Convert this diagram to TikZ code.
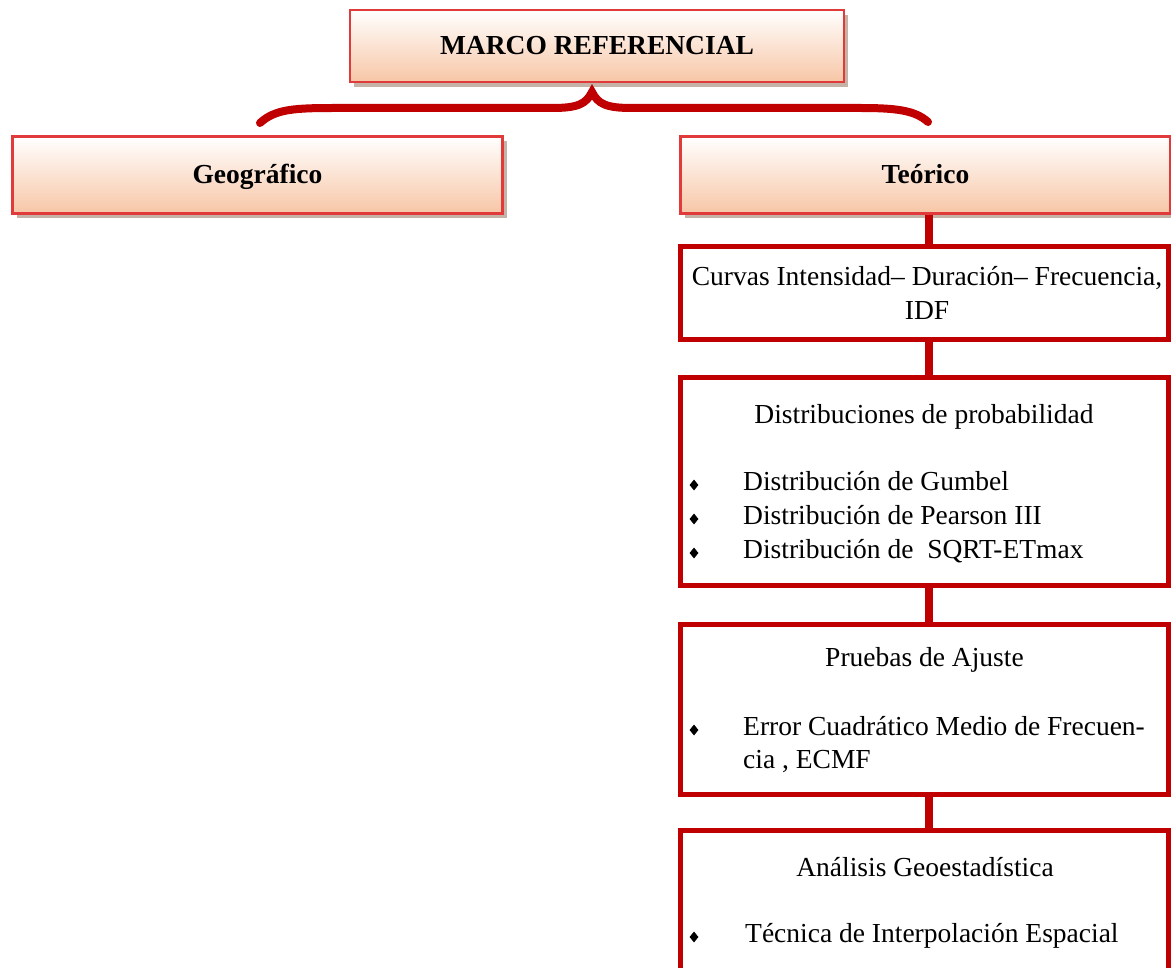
\documentclass[tikz,border=0pt]{standalone}
\usepackage{fontspec}
\setmainfont{Liberation Serif}
\usetikzlibrary{shadows,shapes.geometric}
\definecolor{dred}{HTML}{C00000}
\definecolor{lred}{HTML}{E03A3A}
\definecolor{peach}{HTML}{F7C6A6}
\definecolor{shad}{HTML}{B5A090}
\begin{document}
\begin{tikzpicture}[x=1pt,y=-1pt,
 topbox/.style={draw=lred, line width=2.5pt, top color=white, bottom color=peach,
   drop shadow={shadow xshift=4pt, shadow yshift=-5pt, fill=shad, opacity=0.8},
   minimum width=490pt, minimum height=77pt, text height=18pt, text depth=0pt, inner sep=0pt,
   font=\fontsize{27.5}{33}\selectfont\bfseries},
 lowbox/.style={draw=dred, line width=5pt, fill=white, minimum width=488pt, inner sep=0pt},
 conn/.style={draw=dred, line width=8pt},
 bracestyle/.style={draw=dred, line width=8pt, line cap=round},
 txt/.style={anchor=base, inner sep=0pt, font=\fontsize{27.5}{33}\selectfont},
 itemtxt/.style={anchor=base west, inner sep=0pt, font=\fontsize{27.5}{33}\selectfont},
 bulletmark/.style={diamond, fill=black, inner sep=0pt, minimum width=9pt, minimum height=11pt}
]
\useasboundingbox (0,0) rectangle (1171,968);
\clip (0,0) rectangle (1171,968);

% top level
\node[topbox, minimum width=494pt, minimum height=72pt] (marco) at (597,46) {MARCO REFERENCIAL};
\node[topbox] (geo) at (257.5,175) {Geográfico};
\node[topbox] (teo) at (925.5,175) {Teórico};

% brace
\coordinate (bl) at (260,123);
\coordinate (br) at (928,122);
\coordinate (cusp) at (592,92);
\draw[bracestyle] (bl) .. controls (275,109) and (295,108) .. (335,108) -- (552,108)
  .. controls (578,108) and (586,104) .. (cusp)
  .. controls (598,104) and (606,108) .. (632,108) -- (860,108)
  .. controls (895,108) and (915,110) .. (br);

% lower boxes
\node[lowbox, minimum height=93pt] (idf) at (924.5,293) {};
\node[lowbox, minimum height=208pt] (dist) at (924.5,481.5) {};
\node[lowbox, minimum height=170pt] (prue) at (924.5,709.5) {};
\node[lowbox, minimum height=170pt] (anal) at (924.5,915.5) {};

% connectors
\coordinate (cx) at (929,0);
\draw[conn] (teo.south -| cx) -- (idf.north -| cx);
\draw[conn] (idf.south -| cx) -- (dist.north -| cx);
\draw[conn] (dist.south -| cx) -- (prue.north -| cx);
\draw[conn] (prue.south -| cx) -- (anal.north -| cx);

% texts
\node[txt] (idf1) at (927,286) {Curvas Intensidad– Duración– Frecuencia,};
\node[txt] (idf2) at (927,320) {IDF};

\node[txt] (distt) at (924,424) {Distribuciones de probabilidad};
\node[bulletmark] (db1) at (694,485) {};
\node[itemtxt] (d1) at (743,490) {Distribución de Gumbel};
\node[bulletmark] (db2) at (694,519) {};
\node[itemtxt] (d2) at (743,524) {Distribución de Pearson III};
\node[bulletmark] (db3) at (694,553) {};
\node[itemtxt] (d3) at (743,558) {Distribución de \ SQRT-ETmax};

\node[txt] (pruet) at (924.5,666) {Pruebas de Ajuste};
\node[bulletmark] (pb1) at (694,730) {};
\node[itemtxt] (p1) at (743,735) {Error Cuadrático Medio de Frecuen-};
\node[itemtxt] (p2) at (743,768) {cia , ECMF};

\node[txt] (analt) at (925,876) {Análisis Geoestadística};
\node[bulletmark] (ab1) at (694,937) {};
\node[itemtxt] (a1) at (745,942) {Técnica de Interpolación Espacial};
\end{tikzpicture}
\end{document}
